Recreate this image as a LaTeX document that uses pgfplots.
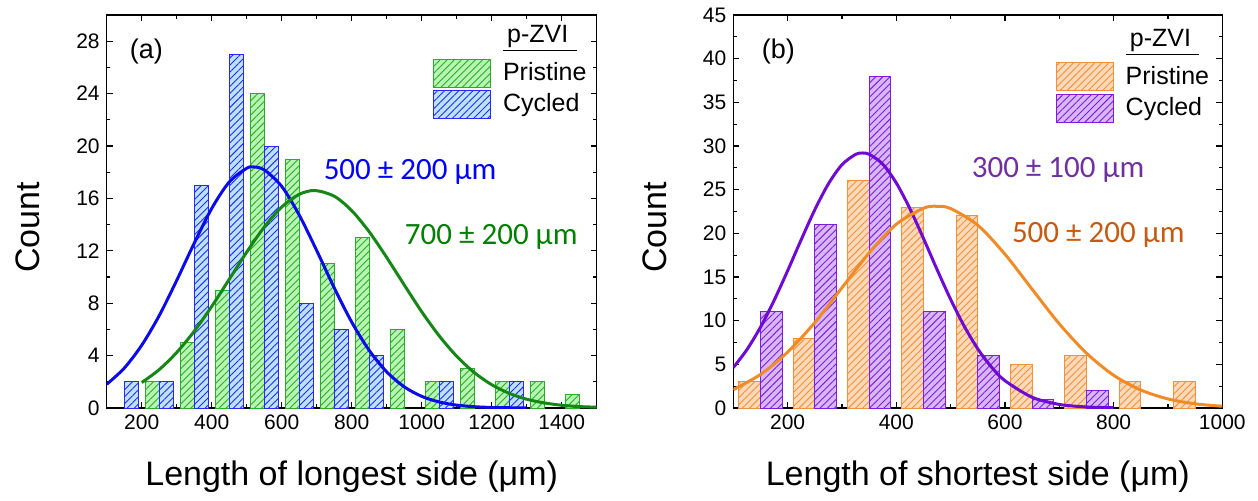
\documentclass[border=0pt]{standalone}
\usepackage{fontspec}
\setmainfont{Liberation Sans}
\newfontfamily\cali{Carlito}
\usepackage{pgfplots}
\pgfplotsset{compat=1.18}
\usetikzlibrary{patterns.meta}

\definecolor{gfill}{RGB}{183,245,178}
\definecolor{gedge}{RGB}{44,170,44}
\definecolor{bfill}{RGB}{186,226,250}
\definecolor{bedge}{RGB}{40,40,250}
\definecolor{gcurve}{RGB}{20,135,20}
\definecolor{bcurve}{RGB}{10,10,235}
\definecolor{gtext}{RGB}{0,128,0}
\definecolor{btext}{RGB}{0,0,255}
\definecolor{ofill}{RGB}{252,217,184}
\definecolor{oedge}{RGB}{242,145,60}
\definecolor{pfill}{RGB}{216,182,248}
\definecolor{pedge}{RGB}{125,30,220}
\definecolor{pcurve}{RGB}{110,10,210}
\definecolor{ocurve}{RGB}{240,140,40}
\definecolor{ptext}{RGB}{112,48,160}
\definecolor{otext}{RGB}{197,90,17}

\pgfplotsset{
  panel/.style={
    scale only axis, height=196.5pt, ymin=0,
    axis line style={line width=0.7pt, black},
    tick align=inside,
    major tick length=3pt, minor tick length=1.8pt,
    every tick/.style={black, line width=0.6pt},
    tick label style={font=\fontsize{10.5}{12}\selectfont},
    /pgf/number format/assume math mode=true,
    /pgf/number format/1000 sep={},
    scaled ticks=false,
    label style={font=\fontsize{17}{20}\selectfont},
    xlabel style={at={(axis description cs:0.5,-0.196)}, anchor=base},
    ylabel style={at={(axis description cs:-0.1367,0.459)}, anchor=base},
    legend style={draw=none, fill=none, anchor=north east, inner sep=0pt,
      font=\fontsize{12.5}{15}\selectfont, row sep=1pt,
      /tikz/every odd column/.append style={column sep=4pt}},
    legend cell align=left,
    legend image code/.code={\draw[#1] (0pt,-7pt) rectangle (28.5pt,7pt);},
  },
  hbar/.style n args={2}{ybar, bar width=40, draw=#2, line width=0.5pt, fill=#1,
    postaction={pattern={Lines[angle=45,distance=2.5pt,line width=0.45pt]}, pattern color=#2}},
}
\newcommand{\legtitle}{\raisebox{3.5pt}{\underline{\,p-ZVI\,\,}}}

\begin{document}
\begin{tikzpicture}
\useasboundingbox (-53.35pt,-46pt) rectangle (575.65pt,204pt);
% ---------------- panel (a)
\begin{axis}[panel, width=245pt,
  xmin=100, xmax=1500, ymax=30,
  xtick={200,400,...,1400}, minor xtick={100,300,...,1500},
  ytick={0,4,...,28}, minor ytick={2,6,...,30},
  xlabel={Length of longest side (μm)}, ylabel={Count},
  legend style={at={(0.988,0.985)}}]
\addlegendimage{empty legend}\addlegendentry{\legtitle}
\addlegendimage{draw=gedge, fill=gfill, line width=0.5pt, postaction={pattern={Lines[angle=45,distance=2.5pt,line width=0.45pt]}, pattern color=gedge}}\addlegendentry{Pristine}
\addlegendimage{draw=bedge, fill=bfill, line width=0.5pt, postaction={pattern={Lines[angle=45,distance=2.5pt,line width=0.45pt]}, pattern color=bedge}}\addlegendentry{Cycled}
% Pristine (green)
\addplot[hbar={gfill}{gedge}, bar shift=-20, forget plot] coordinates {
 (250,2) (350,5) (450,9) (550,24) (650,19) (750,11) (850,13) (950,6)
 (1050,2) (1150,3) (1250,2) (1350,2) (1450,1)};
% Cycled (blue)
\addplot[hbar={bfill}{bedge}, bar shift=20, forget plot] coordinates {
 (150,2) (250,2) (350,17) (450,27) (550,20) (650,8) (750,6) (850,4)
 (1050,2) (1250,2)};
% fitted curves
\addplot[smooth, no markers, line width=1.5pt, color=bcurve, forget plot] coordinates {
 (100,1.81) (150,3.04) (200,4.79) (250,7.05) (300,9.74) (350,12.58) (400,15.23)
 (450,17.25) (500,18.30) (520,18.4) (550,18.18) (600,16.92) (650,14.73) (700,12.02)
 (750,9.18) (800,6.56) (850,4.40) (900,2.76) (950,1.62) (1000,0.89) (1050,0.46)
 (1100,0.22) (1150,0.10) (1200,0.04) (1250,0.02) (1300,0.01)};
\addplot[smooth, no markers, line width=1.5pt, color=gcurve, forget plot] coordinates {
 (200,1.94) (250,2.93) (300,4.24) (350,5.86) (400,7.75) (450,9.82) (500,11.90)
 (550,13.81) (600,15.34) (650,16.31) (695,16.6) (750,16.17) (800,15.07) (850,13.45)
 (900,11.49) (950,9.40) (1000,7.35) (1050,5.51) (1100,3.95) (1150,2.71) (1200,1.78)
 (1250,1.12) (1300,0.67) (1350,0.39) (1400,0.21) (1450,0.11) (1500,0.06)};
\node[anchor=base west, text=btext, font=\cali\fontsize{15.5}{18}\selectfont] at (axis cs:700,17.45) {500 ± 200 µm};
\node[anchor=base west, text=gtext, font=\cali\fontsize{15.5}{18}\selectfont] at (axis cs:932,12.47) {700 ± 200 µm};
\node[anchor=west, font=\fontsize{13.5}{16}\selectfont] at (axis description cs:0.033,0.907) {(a)};
\end{axis}
% ---------------- panel (b)
\begin{axis}[panel, width=244.5pt, at={(313.3pt,0pt)},
  xmin=100, xmax=1000, ymax=45,
  xtick={200,400,...,1000}, minor xtick={100,300,...,900},
  ytick={0,5,...,45}, minor ytick={2.5,7.5,...,42.5},
  xlabel={Length of shortest side (μm)}, ylabel={Count},
  legend style={at={(0.982,0.975)}}]
\addlegendimage{empty legend}\addlegendentry{\legtitle}
\addlegendimage{draw=oedge, fill=ofill, line width=0.5pt, postaction={pattern={Lines[angle=45,distance=2.5pt,line width=0.45pt]}, pattern color=oedge}}\addlegendentry{Pristine}
\addlegendimage{draw=pedge, fill=pfill, line width=0.5pt, postaction={pattern={Lines[angle=45,distance=2.5pt,line width=0.45pt]}, pattern color=pedge}}\addlegendentry{Cycled}
\addplot[hbar={ofill}{oedge}, bar shift=-20, forget plot] coordinates {
 (150,3) (250,8) (350,26) (450,23) (550,22) (650,5) (750,6) (850,3) (950,3)};
\addplot[hbar={pfill}{pedge}, bar shift=20, forget plot] coordinates {
 (150,11) (250,21) (350,38) (450,11) (550,6) (650,1) (750,2)};
\addplot[smooth, no markers, line width=1.5pt, color=pcurve, forget plot] coordinates {
 (100,4.63) (125,6.68) (150,9.25) (175,12.31) (200,15.72) (225,19.28) (250,22.70)
 (275,25.66) (300,27.86) (325,29.04) (338,29.2) (350,29.06) (375,27.93) (400,25.77)
 (425,22.83) (450,19.42) (475,15.86) (500,12.44) (525,9.37) (550,6.77) (575,4.70)
 (600,3.13) (650,1.23) (700,0.41) (750,0.12) (800,0.03)};
\addplot[smooth, no markers, line width=1.5pt, color=ocurve, forget plot] coordinates {
 (100,2.11) (150,3.84) (200,6.40) (250,9.79) (300,13.77) (350,17.76) (400,21.04)
 (450,22.87) (474,23.1) (500,22.84) (550,20.93) (600,17.61) (650,13.60) (700,9.64)
 (750,6.28) (800,3.75) (850,2.06) (900,1.04) (950,0.48) (1000,0.20)};
\node[anchor=base west, text=ptext, font=\cali\fontsize{15.5}{18}\selectfont] at (axis cs:526,26.4) {300 ± 100 µm};
\node[anchor=base west, text=otext, font=\cali\fontsize{15.5}{18}\selectfont] at (axis cs:600,18.9) {500 ± 200 µm};
\node[anchor=west, font=\fontsize{13.5}{16}\selectfont] at (axis description cs:0.044,0.907) {(b)};
\end{axis}
\end{tikzpicture}
\end{document}
